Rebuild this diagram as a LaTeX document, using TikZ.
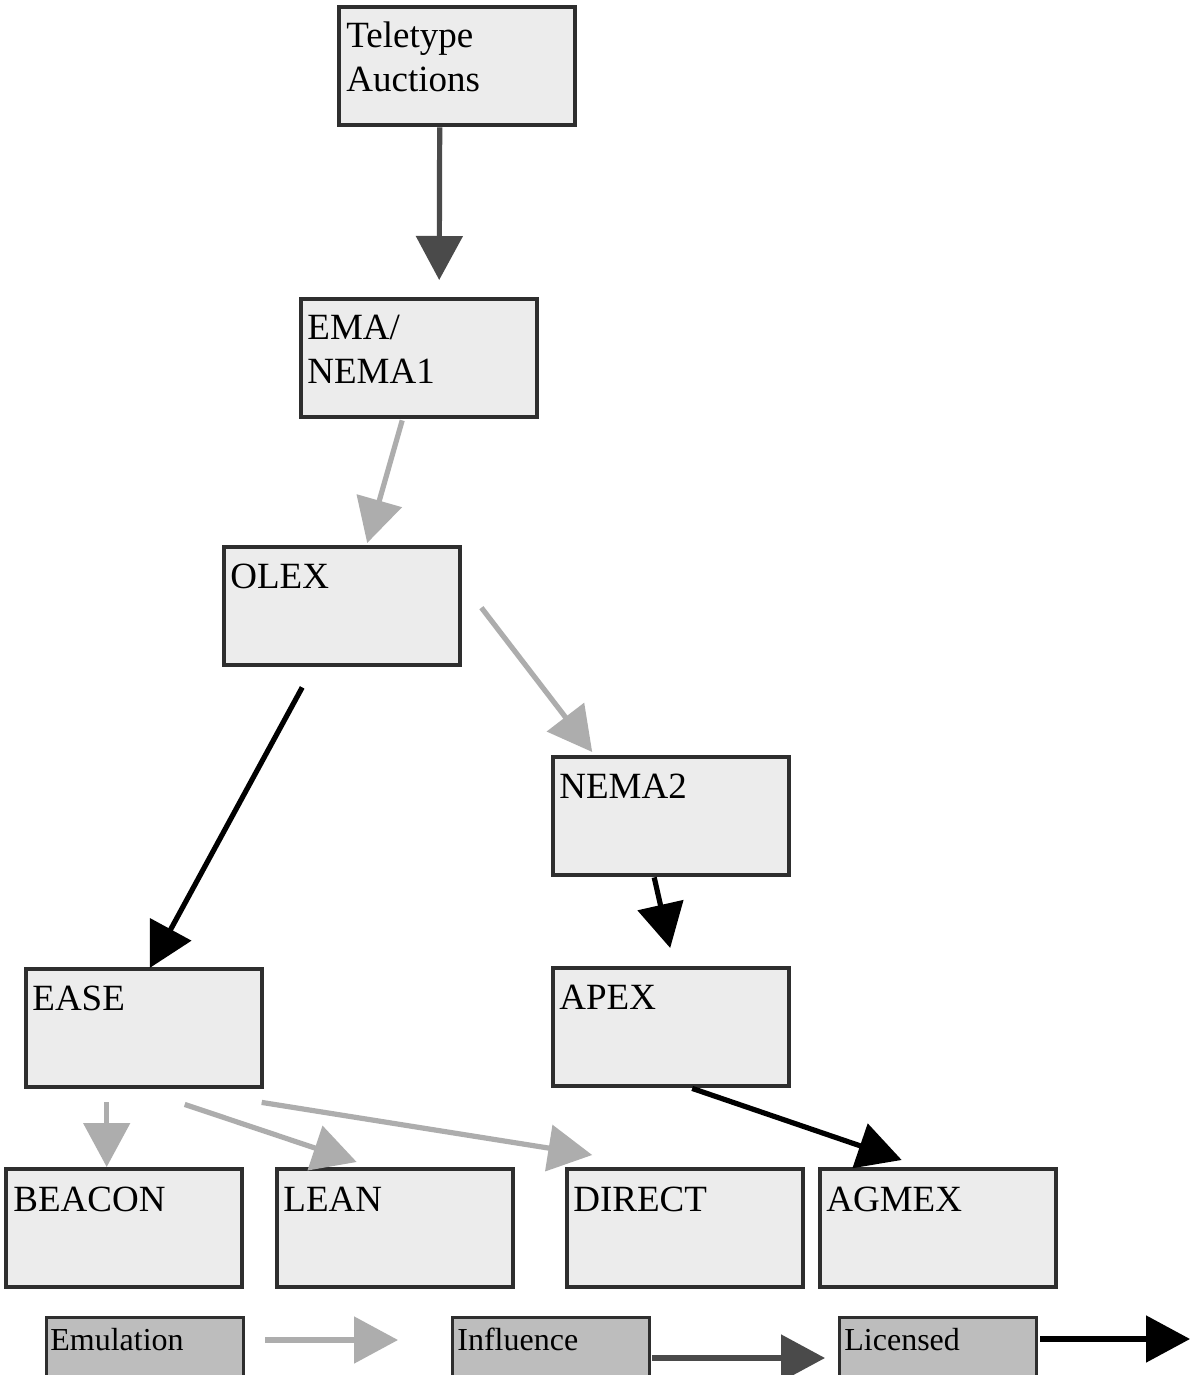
\documentclass[tikz,border=0pt]{standalone}
\usepackage{fontspec}
\setmainfont{Liberation Serif}
\usetikzlibrary{arrows.meta}
\definecolor{boxfill}{HTML}{ECECEC}
\definecolor{boxline}{HTML}{2E2E2E}
\definecolor{legfill}{HTML}{BDBDBD}
\definecolor{emul}{HTML}{ADADAD}
\definecolor{infl}{HTML}{4A4A4A}
\definecolor{lic}{HTML}{000000}
\begin{document}
\begin{tikzpicture}[x=0.5pt,y=-0.5pt,
  box/.style={draw=boxline,line width=2.2pt,fill=boxfill,minimum width=118pt,minimum height=59pt,inner sep=0pt,anchor=north west},
  legbox/.style={draw=boxline,line width=1.5pt,fill=legfill,minimum width=98.5pt,minimum height=40pt,inner sep=0pt,anchor=north west},
  lbl/.style={anchor=base west,inner sep=0pt,align=left,font=\fontsize{18.5}{22}\selectfont},
  leglbl/.style={anchor=base west,inner sep=0pt,font=\fontsize{16}{18}\selectfont},
  conn/.style={line width=2.6pt,-{Triangle[length=22pt,width=23pt]}},
  emulation/.style={conn,draw=emul,fill=emul},
  influence/.style={conn,draw=infl,fill=infl},
  licensed/.style={conn,draw=lic,fill=lic}]
\clip (0,0) rectangle (1196,1375);
\fill[white] (0,0) rectangle (1196,1375);

% boxes
\node[box] (tele)   at (337,5)    {};
\node[box] (ema)    at (299,297)  {};
\node[box] (olex)   at (222,545)  {};
\node[box] (nema2)  at (551,755)  {};
\node[box] (ease)   at (24,967)   {};
\node[box] (apex)   at (551,966)  {};
\node[box] (beacon) at (4,1167)   {};
\node[box] (lean)   at (275,1167) {};
\node[box] (direct) at (565,1167) {};
\node[box] (agmex)  at (818,1167) {};

% labels (base anchor = baseline of last line)
\node[lbl] at ([shift={(9,87)}]tele.north west) {Teletype\\Auctions};
\node[lbl] at ([shift={(8,86)}]ema.north west) {EMA/\\NEMA1};
\node[lbl] at ([shift={(8,43)}]olex.north west) {OLEX};
\node[lbl] at ([shift={(8,43)}]nema2.north west) {NEMA2};
\node[lbl] at ([shift={(8,43)}]ease.north west) {EASE};
\node[lbl] at ([shift={(8,43)}]apex.north west) {APEX};
\node[lbl] at ([shift={(9,44)}]beacon.north west) {BEACON};
\node[lbl] at ([shift={(8,44)}]lean.north west) {LEAN};
\node[lbl] at ([shift={(8,44)}]direct.north west) {DIRECT};
\node[lbl] at ([shift={(8,44)}]agmex.north west) {AGMEX};

% connectors
\draw[influence] ([shift={(-17.5,0)}]tele.south) -- ([shift={(20,-17)}]ema.north);
\draw[emulation] ([shift={(-17,1)}]ema.south) -- ([shift={(25,-2)}]olex.north);
\draw[emulation] ([shift={(19,1.5)}]olex.east) -- ([shift={(-79,-3)}]nema2.north);
\draw[licensed] ([shift={(-40,20)}]olex.south) -- ([shift={(5.5,1)}]ease.north);
\draw[licensed] ([shift={(-17,0)}]nema2.south) -- ([shift={(-1,-18)}]apex.north);
\draw[licensed] ([shift={(21,0)}]apex.south) -- ([shift={(-36.5,-7)}]agmex.north);
\draw[emulation] ([shift={(-37.5,13)}]ease.south) -- ([shift={(-17.5,0)}]beacon.north);
\draw[emulation] ([shift={(40.5,15)}]ease.south) -- ([shift={(-38.5,-5)}]lean.north);
\draw[emulation] ([shift={(117.5,13)}]ease.south) -- ([shift={(-93,-12)}]direct.north);

% legend
\node[legbox] (lemu) at (45,1316) {};
\node[legbox] (linf) at (451,1316) {};
\node[legbox] (llic) at (838,1316) {};
\node[leglbl] at ([shift={(5,34)}]lemu.north west) {Emulation};
\node[leglbl] at ([shift={(6,34)}]linf.north west) {Influence};
\node[leglbl] at ([shift={(6,34)}]llic.north west) {Licensed};
\coordinate (emuS) at (265,1340);
\coordinate (emuE) at (398,1340);
\coordinate (infS) at (652,1358);
\coordinate (infE) at (825,1358);
\coordinate (licS) at (1040,1339);
\coordinate (licE) at (1190,1339);
\draw[emulation] (emuS) -- (emuE);
\draw[influence] (infS) -- (infE);
\draw[licensed] (licS) -- (licE);
\end{tikzpicture}
\end{document}
